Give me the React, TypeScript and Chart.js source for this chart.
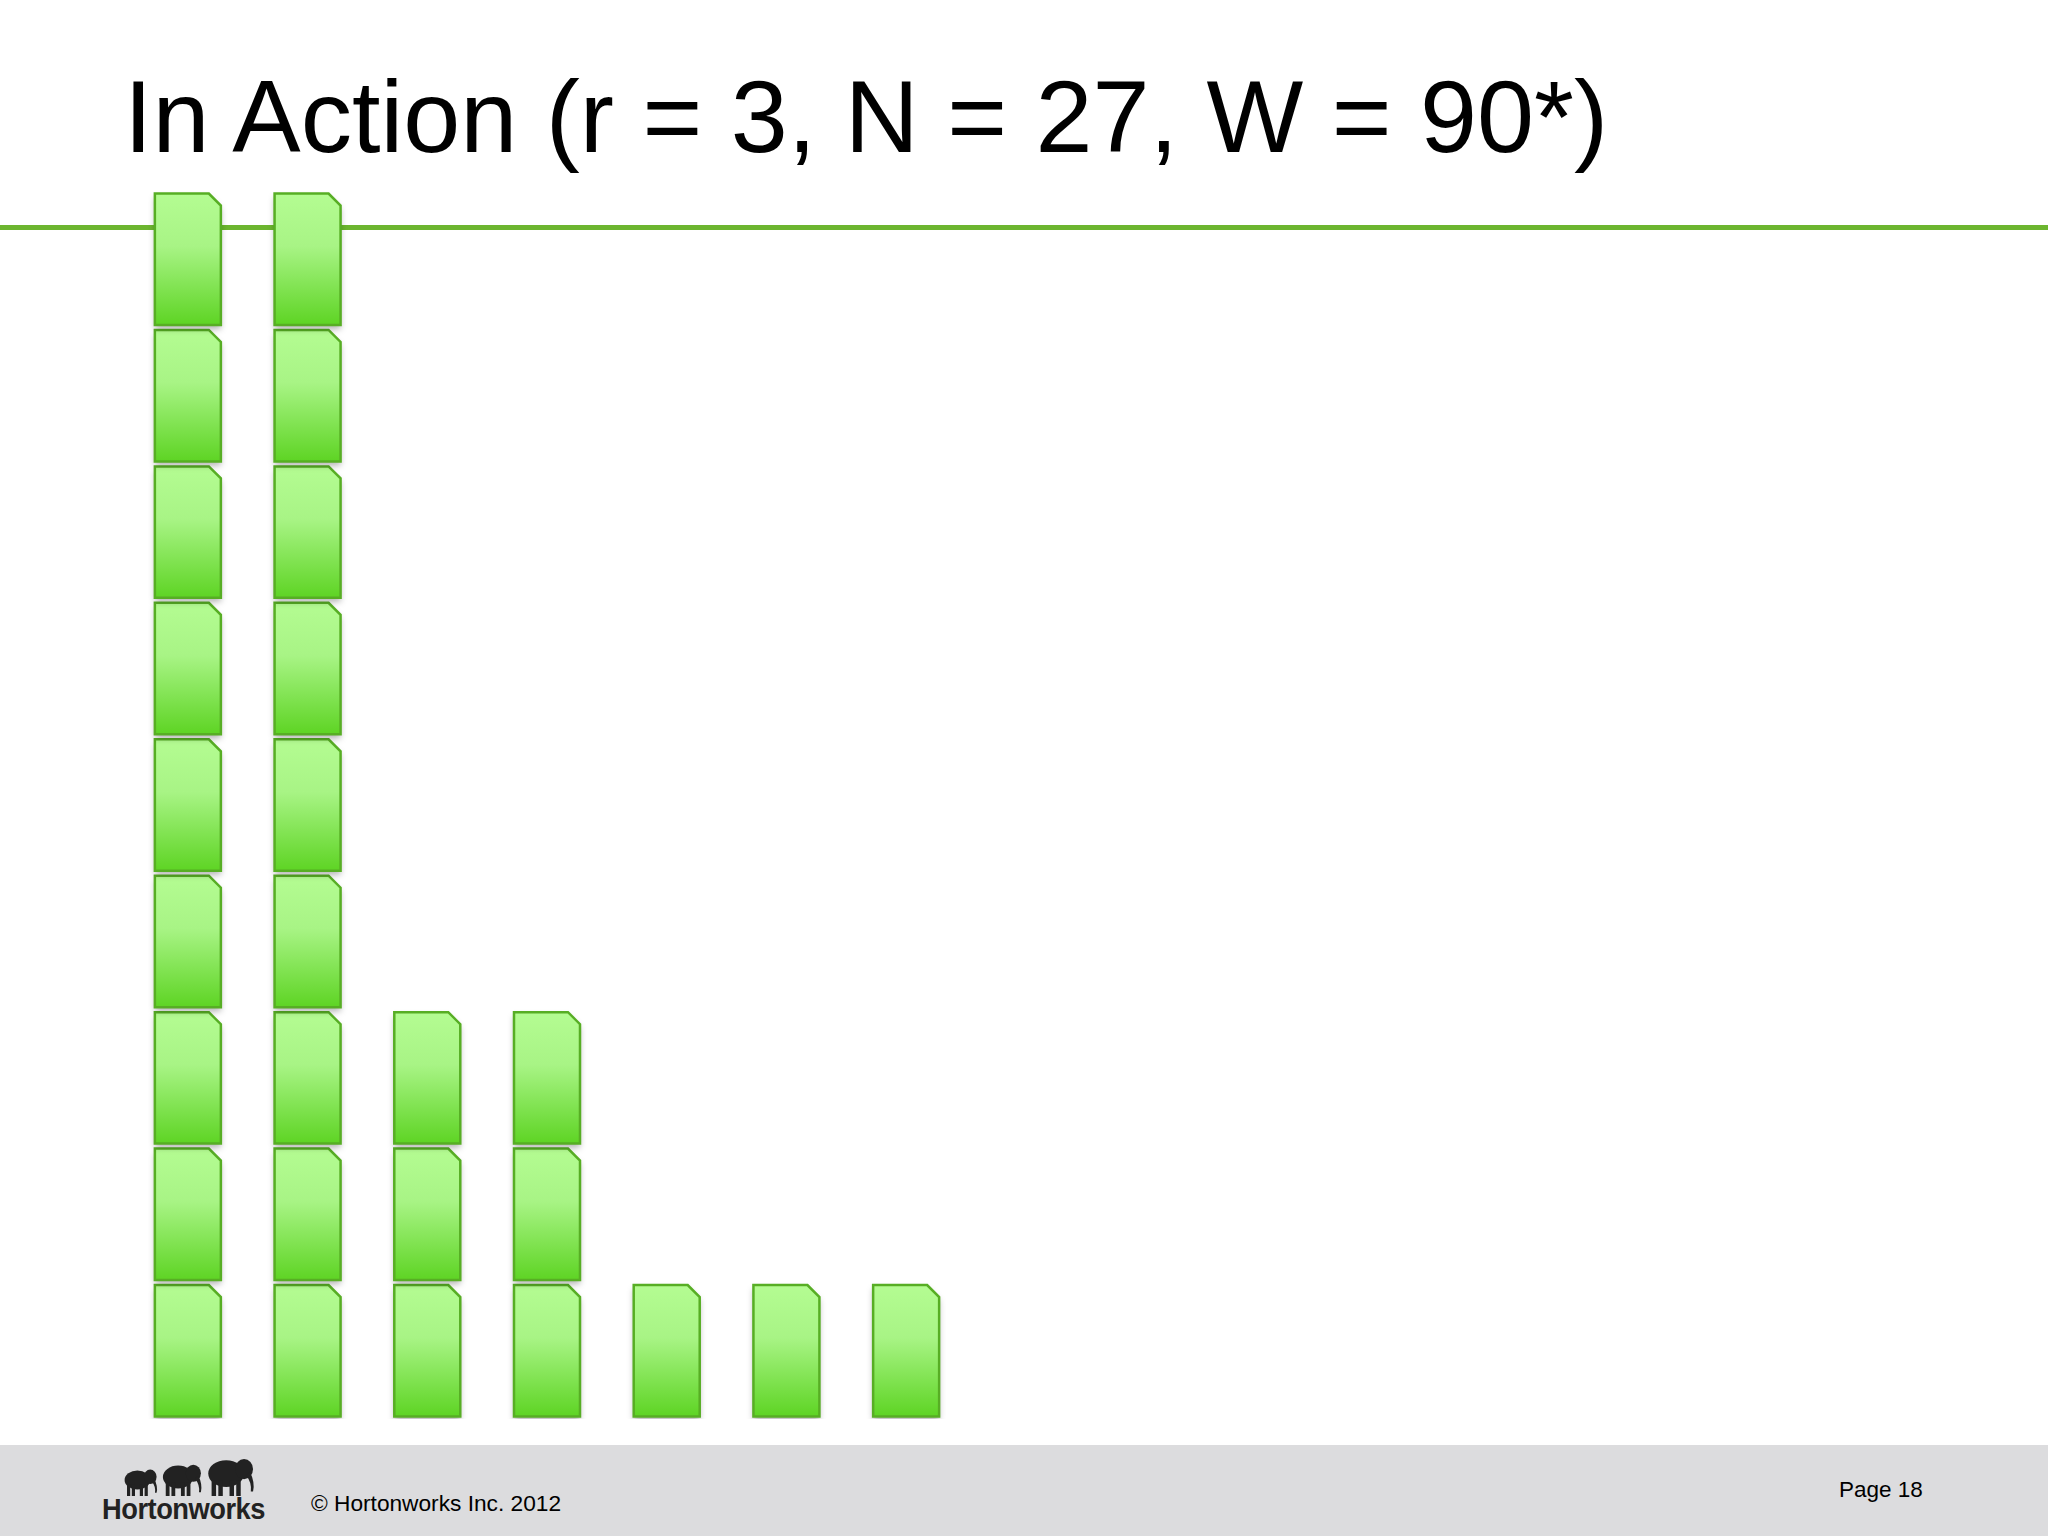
import React, { useEffect, useRef } from "react";
import { Chart, registerables } from "chart.js";

Chart.register(...registerables);

// ---- data ----
const nodeLabels = ["Node 1", "Node 2", "Node 3", "Node 4", "Node 5", "Node 6", "Node 7"];
const blocksPerNode = [9, 9, 3, 3, 1, 1, 1];
const maxBlocks = 9;
const titleText = "In Action (r = 3, N = 27, W = 90*)";
const footerCopyright = "© Hortonworks Inc. 2012";
const footerPage = "Page 18";

const levels = Array.from({ length: maxBlocks }, (_, k) => k);

const blockPlugin = {
  id: "fileBlocks",
  afterDatasetsDraw(chart: any) {
    const ctx = chart.ctx as CanvasRenderingContext2D;
    chart.data.datasets.forEach((_ds: any, di: number) => {
      const meta = chart.getDatasetMeta(di);
      meta.data.forEach((el: any, i: number) => {
        const v = chart.data.datasets[di].data[i];
        if (v == null) return;
        const p = el.getProps(["x", "y", "base", "width"], true);
        const inset = 2.5;
        const left = p.x - p.width / 2 + 1;
        const right = p.x + p.width / 2 - 1;
        const top = Math.min(p.y, p.base) + inset;
        const bottom = Math.max(p.y, p.base) - inset;
        const cut = 12;
        const path = new Path2D();
        path.moveTo(left, top);
        path.lineTo(right - cut, top);
        path.lineTo(right, top + cut);
        path.lineTo(right, bottom);
        path.lineTo(left, bottom);
        path.closePath();
        const g = ctx.createLinearGradient(0, top, 0, bottom);
        g.addColorStop(0, "#b4fc92");
        g.addColorStop(0.4, "#a8f485");
        g.addColorStop(1, "#5ed424");
        ctx.save();
        ctx.shadowColor = "rgba(0,0,0,0.3)";
        ctx.shadowBlur = 6;
        ctx.shadowOffsetY = 4;
        ctx.fillStyle = g;
        ctx.fill(path);
        ctx.restore();
        ctx.save();
        ctx.lineWidth = 2.5;
        ctx.strokeStyle = "#57ae24";
        ctx.lineJoin = "miter";
        ctx.stroke(path);
        ctx.restore();
      });
    });
  },
};

function BlockChart() {
  const ref = useRef<HTMLCanvasElement | null>(null);
  useEffect(() => {
    if (!ref.current) return;
    const chart = new Chart(ref.current, {
      type: "bar",
      data: {
        labels: nodeLabels,
        datasets: levels.map((k) => ({
          label: `Block ${k + 1}`,
          data: blocksPerNode.map((c) => (c > k ? 1 : null)),
          backgroundColor: "rgba(0,0,0,0)",
          borderWidth: 0,
          barPercentage: 0.568,
          categoryPercentage: 1,
        })),
      },
      options: {
        responsive: false,
        maintainAspectRatio: false,
        animation: false,
        devicePixelRatio: 1,
        layout: { padding: 0 },
        plugins: { legend: { display: false }, tooltip: { enabled: false }, title: { display: false } },
        scales: {
          x: { stacked: true, display: false, offset: true },
          y: { stacked: true, display: false, min: 0, max: maxBlocks },
        },
      },
      plugins: [blockPlugin],
    });
    return () => chart.destroy();
  }, []);
  return (
    <canvas
      ref={ref}
      width={838}
      height={1228}
      style={{ position: "absolute", left: 128, top: 191, width: 838, height: 1228 }}
    />
  );
}

function Elephant({ x, s }: { x: number; s: number }) {
  const y = 40 - 36 * s;
  return (
    <g transform={`translate(${x},${y}) scale(${s})`} fill="#222">
      <ellipse cx="18" cy="16" rx="16" ry="12" />
      <ellipse cx="34" cy="12" rx="8" ry="9" />
      <path d="M39 14 Q44 24 42 32 L40 32 Q41 24 36 18 Z" />
      <rect x="5" y="22" width="4" height="14" />
      <rect x="11" y="22" width="4" height="14" />
      <rect x="21" y="22" width="4" height="14" />
      <rect x="27" y="22" width="4" height="14" />
    </g>
  );
}

export default function App() {
  const font = '"Liberation Sans", Arial, Helvetica, sans-serif';
  return (
    <div
      style={{
        position: "absolute",
        left: 0,
        top: 0,
        width: 2048,
        height: 1536,
        overflow: "hidden",
        background: "#ffffff",
        fontFamily: font,
      }}
    >
      <div
        style={{
          position: "absolute",
          left: 124,
          top: 58,
          fontSize: 102.5,
          lineHeight: "118px",
          color: "#000",
          whiteSpace: "nowrap",
        }}
      >
        {titleText}
      </div>
      <div style={{ position: "absolute", left: 0, top: 225, width: 2048, height: 5, background: "#6cb52f" }} />
      <BlockChart />
      <div style={{ position: "absolute", left: 0, top: 1445, width: 2048, height: 91, background: "#dcdcde" }} />
      <svg style={{ position: "absolute", left: 118, top: 1456, width: 145, height: 42 }} viewBox="0 0 145 42">
        <Elephant x={5} s={0.8} />
        <Elephant x={43} s={0.95} />
        <Elephant x={88} s={1.12} />
      </svg>
      <div
        style={{
          position: "absolute",
          left: 102,
          top: 1493,
          fontSize: 29,
          fontWeight: "bold",
          color: "#222",
          whiteSpace: "nowrap",
          transform: "scaleX(0.94)",
          transformOrigin: "left top",
          lineHeight: "32px",
          letterSpacing: "-0.5px",
        }}
      >
        Hortonworks
      </div>
      <div
        style={{
          position: "absolute",
          left: 311,
          top: 1490,
          fontSize: 22.7,
          lineHeight: "26px",
          color: "#000",
          whiteSpace: "nowrap",
        }}
      >
        {footerCopyright}
      </div>
      <div
        style={{
          position: "absolute",
          left: 1839,
          top: 1477,
          fontSize: 22.5,
          lineHeight: "26px",
          color: "#000",
          whiteSpace: "nowrap",
        }}
      >
        {footerPage}
      </div>
    </div>
  );
}
